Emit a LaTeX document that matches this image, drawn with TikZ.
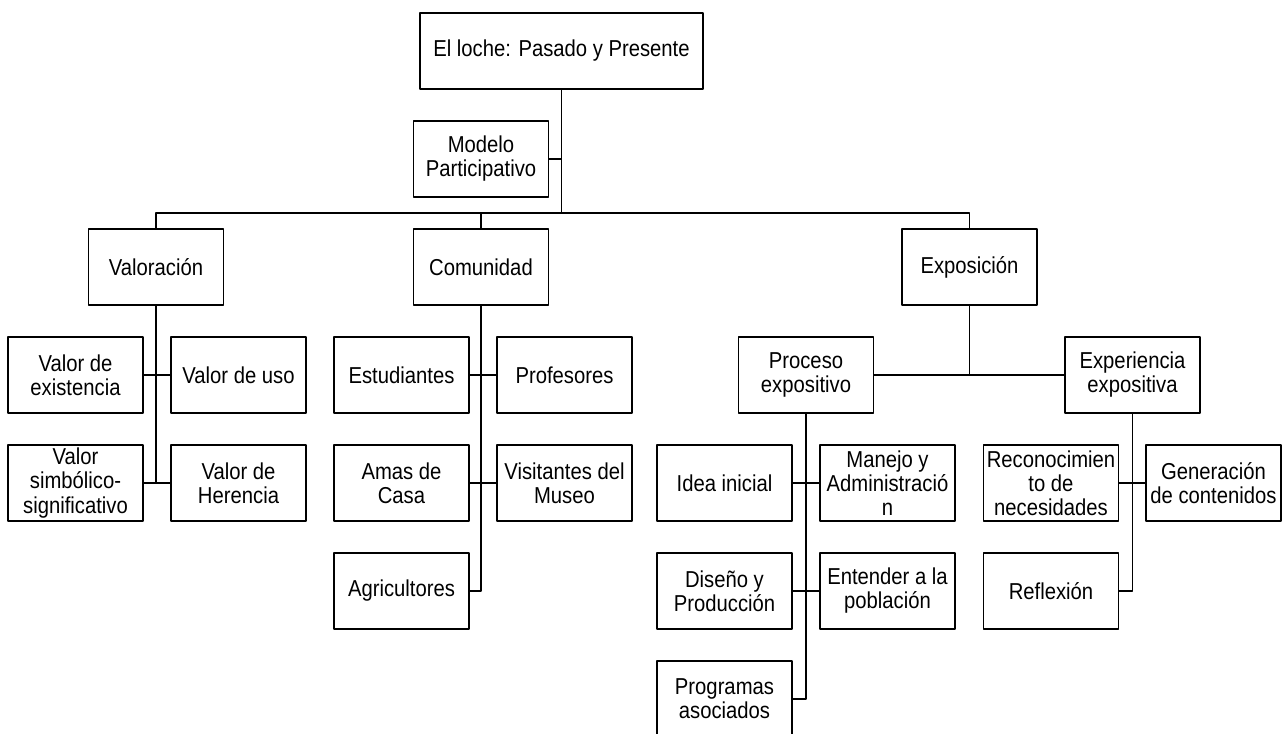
\documentclass[tikz,border=0pt]{standalone}
\usepackage{fontspec}
\setmainfont{Liberation Sans}[FakeStretch=0.88]
\begin{document}
\begin{tikzpicture}[x=0.02cm, y=-0.02cm, font=\fontsize{13.1}{13.7}\selectfont, line join=round, line width=1.1pt]
	\tikzset{
	box/.style={draw, align=center, minimum width=2.7cm, minimum height=1.52cm, inner sep=1pt}
	}
	\useasboundingbox (0,0) rectangle (1282,734);
	\clip (0,0) rectangle (1282,734);
	\node[box, minimum width=5.66cm] (root) at (561.5,51) {El loche: Pasado y Presente};
	\node[box] (modelo) at (481,159) {Modelo\\Participativo};
	\node[box] (valor) at (156,267) {Valoración};
	\node[box] (comun) at (481,267) {Comunidad};
	\node[box] (expo) at (969.5,267) {Exposición};
	\node[box] (vexist) at (75.5,375) {Valor de\\existencia};
	\node[box] (vuso) at (238.5,375) {Valor de uso};
	\node[box] (vsimb) at (75.5,483) {Valor\\simbólico-\\significativo};
	\node[box] (vher) at (238.5,483) {Valor de\\Herencia};
	\node[box] (estud) at (401.5,375) {Estudiantes};
	\node[box] (prof) at (564.5,375) {Profesores};
	\node[box] (amas) at (401.5,483) {Amas de\\Casa};
	\node[box] (visit) at (564.5,483) {Visitantes del\\Museo};
	\node[box] (agri) at (401.5,591) {Agricultores};
	\node[box] (proc) at (806,375) {Proceso\\expositivo};
	\node[box] (exper) at (1132.5,375) {Experiencia\\expositiva};
	\node[box] (idea) at (724.5,483) {Idea inicial};
	\node[box] (manejo) at (887.5,483) {Manejo y\\Administració\\n};
	\node[box] (diseno) at (724.5,591) {Diseño y\\Producción};
	\node[box] (entender) at (887.5,591) {Entender a la\\población};
	\node[box] (progr) at (724.5,699) {Programas\\asociados};
	\node[box] (recon) at (1051,483) {Reconocimien\\to de\\necesidades};
	\node[box] (gener) at (1213.5,483) {Generación\\de contenidos};
	\node[box] (reflex) at (1051,591) {Reflexión};
	\coordinate (bus) at (561.5,213);
	\draw (root) -- (bus);
	\draw (modelo.east) -- (modelo.east -| bus);
	\foreach \n in {valor, comun, expo}{
	\draw (\n.north) |- (bus);
	}
	\draw (valor.south) -- (valor.south |- vsimb.east);
	\draw (agri.east) -| (comun.south);
	\draw (expo.south) -- (expo.south |- proc.east);
	\draw (proc) -- (exper);
	\draw (progr.east) -| (proc.south);
	\draw (reflex.east) -| (exper.south);
	\foreach \a/\b in {vexist/vuso, vsimb/vher, estud/prof, amas/visit, idea/manejo, diseno/entender, recon/gener}{
	\draw (\a) -- (\b);
	}
\end{tikzpicture}
\end{document}
